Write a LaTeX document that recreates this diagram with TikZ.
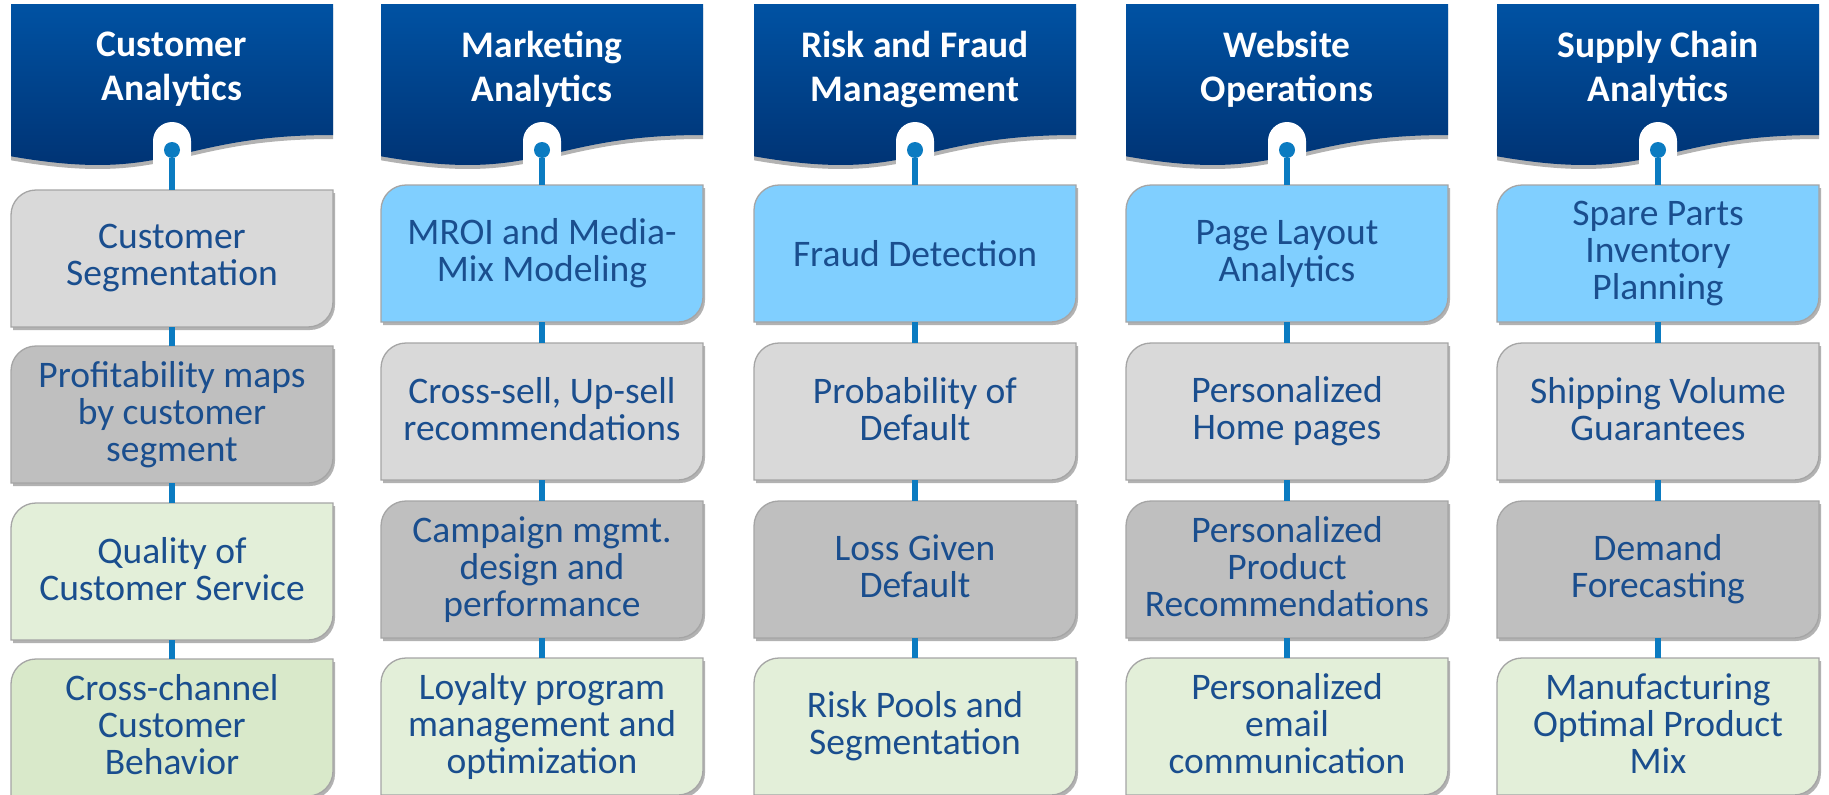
\documentclass[tikz,border=0pt]{standalone}
\usepackage{fontspec}
\setmainfont{Carlito}
\usetikzlibrary{shadows}

\definecolor{hdrtop}{HTML}{0052A3}
\definecolor{hdrbot}{HTML}{00306F}
\definecolor{linkblue}{HTML}{0B7BC1}
\definecolor{tileblue}{HTML}{80CFFF}
\definecolor{greyL}{HTML}{D9D9D9}
\definecolor{greyD}{HTML}{BFBFBF}
\definecolor{greenL}{HTML}{E3EFD9}
\definecolor{greenM}{HTML}{D9E9CA}
\definecolor{tileborder}{HTML}{A5A5A5}
\definecolor{tiletxt}{HTML}{1A4E8E}

\tikzset{
  tilepath/.style={draw=tileborder, line width=1.3pt,
    drop shadow={shadow xshift=2pt, shadow yshift=-3pt, opacity=.3, fill=black}},
  tiletext/.style={rectangle, minimum width=322pt, minimum height=137pt,
    inner sep=0pt, align=center, text=tiletxt,
    font=\fontsize{37.5}{37}\selectfont,
    execute at begin node={\rule{0pt}{31pt}},
    execute at end node={\rule[-6pt]{0pt}{6pt}}},
  headpath/.style={top color=hdrtop, bottom color=hdrbot,
    drop shadow={shadow xshift=0pt, shadow yshift=-4pt, opacity=.3, fill=black}},
  headtext/.style={inner sep=0pt, align=center, text=white,
    font=\bfseries\fontsize{37.5}{44}\selectfont,
    execute at begin node={\rule{0pt}{30pt}},
    execute at end node={\rule[-10pt]{0pt}{10pt}}},
  link/.style={draw=linkblue, line width=5.5pt},
  dotstyle/.style={circle, fill=linkblue, minimum size=16pt, inner sep=0pt},
}

% tile with rounded top-left and bottom-right corners
% #1 name, #2 left, #3 top, #4 fill, #5 text
\newcommand\drawtile[5]{%
  \path[tilepath, fill=#4] (#2,#3+25) .. controls (#2,#3+11.2) and (#2+11.2,#3) .. (#2+25,#3)
    -- (#2+322,#3) -- (#2+322,#3+112)
    .. controls (#2+322,#3+125.8) and (#2+310.8,#3+137) .. (#2+297,#3+137)
    -- (#2,#3+137) -- cycle;
  \node[tiletext] (#1) at (#2+161,#3+68.5) {#5};
}

% column heading with wavy bottom, white tab and dot
% #1 name, #2 left, #3 text
\newcommand\drawheading[3]{%
  \path[headpath] (#2,4) -- (#2+322,4) -- (#2+322,135)
    .. controls (#2+161,135) and (#2+161,184.5) .. (#2,156.3) -- cycle;
  \path[fill=white] (#2+142,176) -- (#2+142,141)
    .. controls (#2+142,130.5) and (#2+150.5,122) .. (#2+161,122)
    .. controls (#2+171.5,122) and (#2+180,130.5) .. (#2+180,141)
    -- (#2+180,176) -- cycle;
  \node[headtext] (#1) at (#2+161,71) {#3};
  \node[dotstyle] (#1dot) at (#2+161,150) {};
}

\begin{document}
\begin{tikzpicture}[x=1pt, y=-1pt]
\useasboundingbox[fill=white] (0,0) rectangle (1829,795);

% headings
\drawheading{h1}{11}{Customer\\Analytics}
\drawheading{h2}{381}{Marketing\\Analytics}
\drawheading{h3}{754}{Risk and Fraud\\Management}
\drawheading{h4}{1126}{Website\\Operations}
\drawheading{h5}{1497}{Supply Chain\\Analytics}

% column 1
\drawtile{a1}{11}{190}{greyL}{Customer\\Segmentation}
\drawtile{a2}{11}{346}{greyD}{Profitability maps\\by customer\\segment}
\drawtile{a3}{11}{503}{greenL}{Quality of\\Customer Service}
\drawtile{a4}{11}{659}{greenM}{Cross-channel\\Customer\\Behavior}

% column 2
\drawtile{b1}{381}{185}{tileblue}{MROI and Media-\\Mix Modeling}
\drawtile{b2}{381}{343}{greyL}{Cross-sell, Up-sell\\recommendations}
\drawtile{b3}{381}{501}{greyD}{Campaign mgmt.\\design and\\performance}
\drawtile{b4}{381}{658}{greenL}{Loyalty program\\management and\\optimization}

% column 3
\drawtile{c1}{754}{185}{tileblue}{Fraud Detection}
\drawtile{c2}{754}{343}{greyL}{Probability of\\Default}
\drawtile{c3}{754}{501}{greyD}{Loss Given\\Default}
\drawtile{c4}{754}{658}{greenL}{Risk Pools and\\Segmentation}

% column 4
\drawtile{d1}{1126}{185}{tileblue}{Page Layout\\Analytics}
\drawtile{d2}{1126}{343}{greyL}{Personalized\\Home pages}
\drawtile{d3}{1126}{501}{greyD}{Personalized\\Product\\Recommendations}
\drawtile{d4}{1126}{658}{greenL}{Personalized\\email\\communication}

% column 5
\drawtile{e1}{1497}{185}{tileblue}{Spare Parts\\Inventory\\Planning}
\drawtile{e2}{1497}{343}{greyL}{Shipping Volume\\Guarantees}
\drawtile{e3}{1497}{501}{greyD}{Demand\\Forecasting}
\drawtile{e4}{1497}{658}{greenL}{Manufacturing\\Optimal Product\\Mix}

% connectors
\foreach \h/\c in {h1/a, h2/b, h3/c, h4/d, h5/e}{
  \draw[link] (\h dot) -- (\c1);
  \draw[link] (\c1) -- (\c2);
  \draw[link] (\c2) -- (\c3);
  \draw[link] (\c3) -- (\c4);
}
\end{tikzpicture}
\end{document}
